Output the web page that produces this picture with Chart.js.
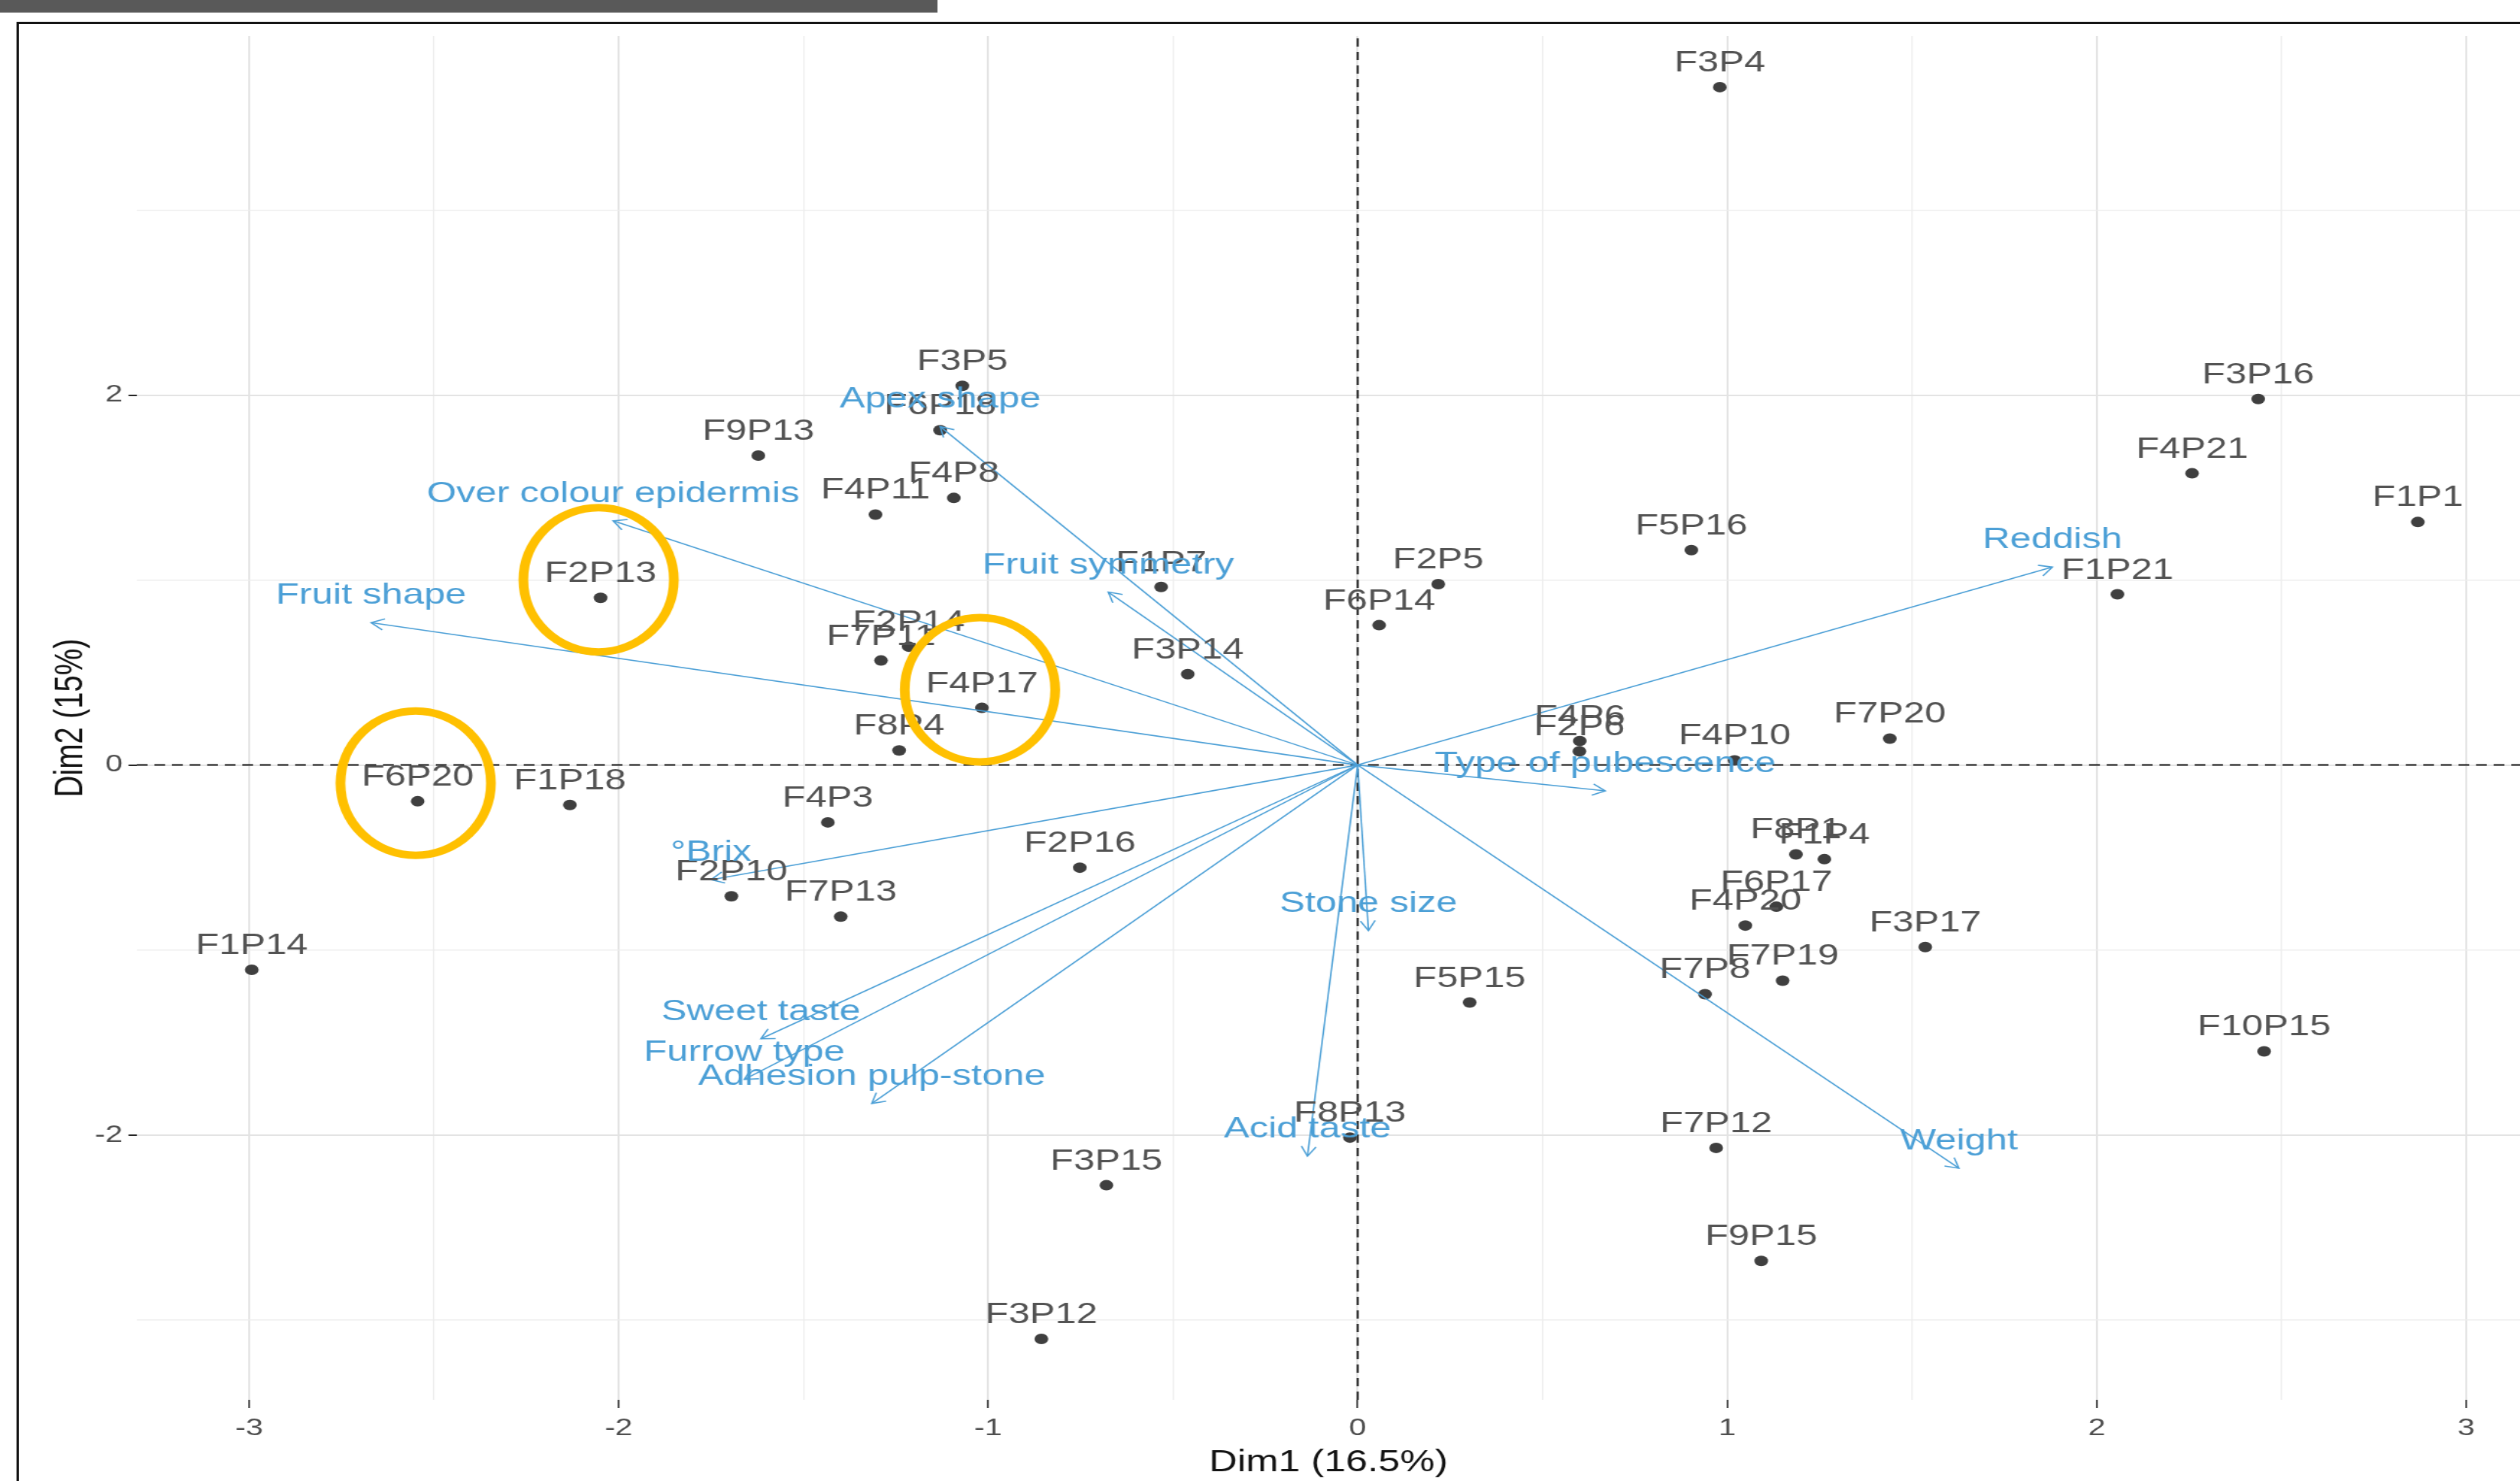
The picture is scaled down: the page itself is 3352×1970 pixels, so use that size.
<!DOCTYPE html>
<html>
<head>
<meta charset="utf-8">
<title>PCA biplot – Dim1 vs Dim2</title>
<script src="https://cdn.jsdelivr.net/npm/chart.js@4/dist/chart.umd.min.js"></script>
<style>
  html, body { margin: 0; padding: 0; background: #fff; }
  body { width: 3352px; height: 1970px; position: relative; overflow: hidden; }
  #topbar { position: absolute; left: 0; top: 0; width: 1247px; height: 16px; background: #595959; border-bottom: 1px solid #8c8c8c; }
  #frame { position: absolute; left: 22px; top: 29px; right: -20px; bottom: -20px; border-top: 3px solid #111; border-left: 3px solid #111; }
  /* the figure is drawn on a narrower canvas and widened horizontally */
  #plot { position: absolute; left: 0; top: 0; transform-origin: 0 0; }
</style>
</head>
<body>
<div id="topbar"></div>
<div id="frame"></div>
<canvas id="plot" width="2579" height="1970"></canvas>
<script>
// ---- individuals (scores on the first two dimensions) ----
const individuals = ['F3P4','F3P5','F6P18','F9P13','F4P8','F4P11','F2P13','F1P7','F2P5','F6P14',
  'F5P16','F3P16','F4P21','F1P1','F1P21','F7P11','F2P14','F3P14','F4P17','F8P4',
  'F4P6','F2P6','F4P10','F7P20','F6P20','F1P18','F4P3','F2P16','F2P10','F7P13',
  'F8P1','F1P4','F6P17','F4P20','F3P17','F7P19','F7P8','F5P15','F10P15','F1P14',
  'F8P13','F7P12','F3P15','F9P15','F3P12'];
const dim1 = [0.98, -1.07, -1.13, -1.622, -1.093, -1.305, -2.049, -0.532, 0.218, 0.058,
  0.903, 2.437, 2.258, 2.869, 2.056, -1.29, -1.215, -0.46, -1.017, -1.241,
  0.601, 0.60, 1.02, 1.44, -2.544, -2.132, -1.434, -0.752, -1.695, -1.399,
  1.186, 1.263, 1.133, 1.049, 1.536, 1.15, 0.94, 0.303, 2.453, -2.993,
  -0.021, 0.97, -0.68, 1.092, -0.856];
const dim2 = [3.665, 2.05, 1.81, 1.673, 1.444, 1.354, 0.904, 0.963, 0.978, 0.756,
  1.162, 1.979, 1.577, 1.314, 0.923, 0.565, 0.64, 0.491, 0.309, 0.079,
  0.13, 0.074, 0.025, 0.143, -0.196, -0.216, -0.31, -0.555, -0.71, -0.82,
  -0.483, -0.509, -0.766, -0.868, -0.984, -1.166, -1.239, -1.284, -1.548, -1.107,
  -2.014, -2.07, -2.272, -2.681, -3.103];

// ---- variables (arrow tips) ----
const variables = ['Reddish','Type of pubescence','Stone size','Acid taste','Weight',
  'Fruit symmetry','Apex shape','Over colour epidermis','Fruit shape','°Brix',
  'Sweet taste','Furrow type','Adhesion pulp-stone'];
const varDim1 = [1.88, 0.67, 0.029, -0.136, 1.627, -0.675, -1.13, -2.015, -2.67, -1.75, -1.615, -1.66, -1.315];
const varDim2 = [1.07, -0.14, -0.895, -2.115, -2.18, 0.935, 1.83, 1.32, 0.77, -0.62, -1.48, -1.70, -1.83];

// highlighted individuals
const circled = ['F2P13', 'F4P17', 'F6P20'];

// axes
const xTickLabels = [-3, -2, -1, 0, 1, 2, 3];
const yTickLabels = [-2, 0, 2];
const xTitle = 'Dim1 (16.5%)';
const yTitle = 'Dim2 (15%)';
const X_MIN = -3.304, X_MAX = 3.1455, Y_MIN = -3.432, Y_MAX = 3.941;

// ---- styling ----
const CANVAS_W = 2579;
const STRETCH = 3352 / CANVAS_W;
const FONT = '"Liberation Sans", Arial, Helvetica, sans-serif';
const INK = '#3f3f3f';
const LABEL = '#525252';
const BLUE = '#4b9fd6';
const GOLD = '#ffc000';
const TICK_TEXT = '#4d4d4d';

document.getElementById('plot').style.transform = `scaleX(${STRETCH})`;

const isMajor = (list, v) => list.some(t => Math.abs(t - v) < 1e-9);

const refLine = pts => ({
  type: 'scatter', data: pts, showLine: true,
  borderColor: '#111', borderWidth: 2, borderDash: [11, 7],
  pointRadius: 0, order: 5
});

const arrowSets = variables.map((v, i) => ({
  type: 'scatter', label: v,
  data: [{ x: 0, y: 0 }, { x: varDim1[i], y: varDim2[i] }],
  showLine: true, borderColor: BLUE, borderWidth: 1.6,
  pointRadius: 0, order: 1
}));

const pointSet = {
  type: 'scatter', label: 'individuals',
  data: individuals.map((n, i) => ({ x: dim1[i], y: dim2[i] })),
  pointRadius: 7, pointBackgroundColor: INK, pointBorderWidth: 0,
  order: 3
};

// arrowheads, text labels and highlight rings
const biplotDecor = {
  id: 'biplotDecor',
  afterDatasetsDraw(chart) {
    const { ctx, scales: { x, y } } = chart;
    const x0 = x.getPixelForValue(0), y0 = y.getPixelForValue(0);
    ctx.save();

    ctx.strokeStyle = BLUE;
    ctx.lineWidth = 1.6;
    variables.forEach((v, i) => {
      const x1 = x.getPixelForValue(varDim1[i]);
      const y1 = y.getPixelForValue(varDim2[i]);
      const a = Math.atan2(y1 - y0, x1 - x0);
      const L = 15, w = Math.PI / 6;
      ctx.beginPath();
      ctx.moveTo(x1 - L * Math.cos(a - w), y1 - L * Math.sin(a - w));
      ctx.lineTo(x1, y1);
      ctx.lineTo(x1 - L * Math.cos(a + w), y1 - L * Math.sin(a + w));
      ctx.stroke();
    });

    ctx.font = `39px ${FONT}`;
    ctx.textAlign = 'center';
    ctx.textBaseline = 'alphabetic';
    ctx.fillStyle = LABEL;
    individuals.forEach((n, i) => {
      ctx.fillText(n, x.getPixelForValue(dim1[i]), y.getPixelForValue(dim2[i]) - 21);
    });

    ctx.fillStyle = BLUE;
    variables.forEach((v, i) => {
      ctx.fillText(v, x.getPixelForValue(varDim1[i]), y.getPixelForValue(varDim2[i]) - 25);
    });

    ctx.strokeStyle = GOLD;
    ctx.lineWidth = 10;
    circled.forEach(name => {
      const i = individuals.indexOf(name);
      const cx = x.getPixelForValue(dim1[i]) - 2;
      const cy = y.getPixelForValue(dim2[i]) - 24;
      ctx.beginPath();
      ctx.ellipse(cx, cy, 77, 96, 0, 0, Math.PI * 2);
      ctx.stroke();
    });

    ctx.restore();
  }
};

new Chart(document.getElementById('plot'), {
  type: 'scatter',
  data: {
    datasets: [
      refLine([{ x: X_MIN, y: 0 }, { x: X_MAX, y: 0 }]),
      refLine([{ x: 0, y: Y_MIN }, { x: 0, y: Y_MAX }]),
      pointSet,
      ...arrowSets
    ]
  },
  options: {
    responsive: false,
    animation: false,
    devicePixelRatio: 1,
    layout: { autoPadding: false, padding: { top: 48, left: 0, right: 0, bottom: 0 } },
    plugins: { legend: { display: false }, tooltip: { enabled: false } },
    scales: {
      x: {
        type: 'linear', min: X_MIN, max: X_MAX,
        afterFit: s => { s.height = 108; s.paddingLeft = 0; s.paddingRight = 0; },
        border: { display: false },
        grid: {
          color: c => isMajor(xTickLabels, c.tick.value) ? '#e3e3e3' : '#ededed',
          lineWidth: c => isMajor(xTickLabels, c.tick.value) ? 2 : 1.4,
          drawTicks: true, tickLength: 11, tickWidth: 1.6,
          tickColor: c => isMajor(xTickLabels, c.tick.value) ? '#222' : 'rgba(0,0,0,0)'
        },
        ticks: {
          stepSize: 0.5, includeBounds: false, autoSkip: false,
          maxRotation: 0, minRotation: 0, padding: 8,
          color: TICK_TEXT, font: { family: FONT, size: 32 },
          callback: v => isMajor(xTickLabels, v) ? String(Math.round(v)) : ''
        },
        title: {
          display: true, text: xTitle, color: '#111',
          font: { family: FONT, size: 40 }, padding: { top: 0, bottom: 0 }
        }
      },
      y: {
        type: 'linear', min: Y_MIN, max: Y_MAX,
        afterFit: s => { s.width = 140; s.paddingTop = 0; s.paddingBottom = 0; },
        border: { display: false },
        grid: {
          color: c => isMajor(yTickLabels, c.tick.value) ? '#e3e3e3' : '#ededed',
          lineWidth: c => isMajor(yTickLabels, c.tick.value) ? 2 : 1.4,
          drawTicks: true, tickLength: 8.5, tickWidth: 2,
          tickColor: c => isMajor(yTickLabels, c.tick.value) ? '#222' : 'rgba(0,0,0,0)'
        },
        ticks: {
          stepSize: 1, includeBounds: false, autoSkip: false, padding: 6,
          color: TICK_TEXT, font: { family: FONT, size: 32 },
          callback: v => isMajor(yTickLabels, v) ? String(Math.round(v)) : ''
        },
        title: {
          display: true, text: yTitle, color: '#111',
          font: { family: FONT, size: 40 }, padding: { top: 49, bottom: 0 }
        }
      }
    }
  },
  plugins: [biplotDecor]
});
</script>
</body>
</html>
